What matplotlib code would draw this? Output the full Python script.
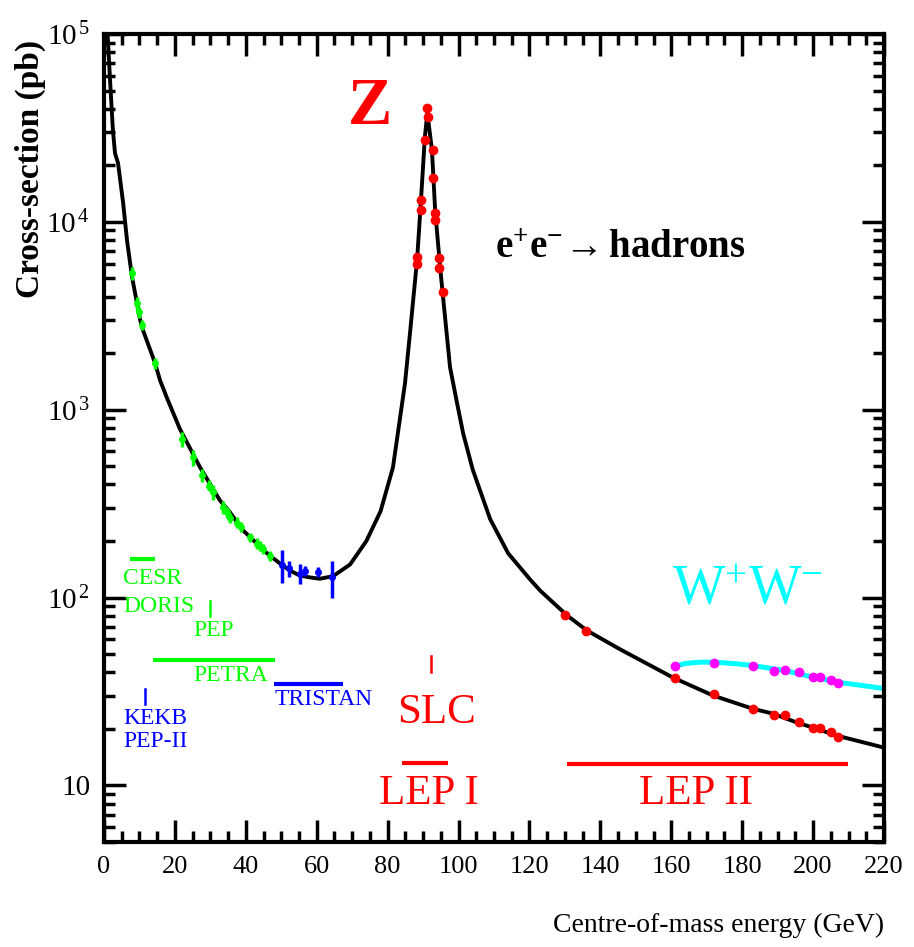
import matplotlib
matplotlib.use("Agg")
import matplotlib.pyplot as plt
from matplotlib.ticker import MultipleLocator, LogLocator, NullFormatter, FixedLocator, FixedFormatter

plt.rcParams['font.family'] = ['Liberation Serif', 'DejaVu Serif']
plt.rcParams['mathtext.fontset'] = 'custom'
plt.rcParams['mathtext.rm'] = 'Liberation Serif'
plt.rcParams['mathtext.it'] = 'Liberation Serif:italic'
plt.rcParams['mathtext.bf'] = 'Liberation Serif:bold'

# black curve (GeV, pb)
curve_E = [0.7, 1.7, 2.5, 3.1, 3.95, 5.4, 6.5, 7.9, 10.2, 11.0, 14.4, 15.8, 17.8, 21.4,
           27.1, 32.7, 35.5, 39.2, 46.0, 49.6, 52.5, 55.3, 58.1, 60.9, 64.6, 69.4, 74.0,
           78.0, 81.5, 84.9, 86.3, 87.2, 88.3, 89.4, 90.5, 91.2, 92.5, 93.4, 94.8,
           96.2, 97.6, 99.6, 101.3, 104.0, 108.9, 114.0, 120.0, 123.0, 130.6, 136.2,
           145.6, 160.5, 171.8, 183.0, 188.7, 195.5, 200.0, 206.8, 220.0]
curve_sigma = [1.3e5, 5.7e4, 3.1e4, 2.32e4, 2.06e4, 1.26e4, 7940, 5100, 3000, 2650, 1770,
               1435, 1150, 790, 493, 329, 285, 228, 172, 152, 139, 131, 128, 126, 130, 150,
               200, 288, 493, 1384, 2550, 3830, 6250, 13000, 28300, 38000, 24100,
               11500, 5740, 3100, 1683, 1080, 748, 480, 262, 172, 126, 109, 80.4, 66.8,
               53.0, 37.5, 30.1, 25.6, 24.1, 21.6, 20.3, 18.4, 15.9]

# W+W- curve
ww_curve_E = [161, 164, 168, 172, 178, 183, 188, 192, 196, 200, 204, 208, 214, 220]
ww_curve_sigma = [43.0, 44.6, 45.3, 45.3, 44.5, 43.5, 42.0, 40.9, 39.3, 37.6, 36.4, 35.2, 34.0, 32.8]

# low energy data (CESR, DORIS, PEP, PETRA)
green_E = [7.9, 9.3, 9.9, 10.7, 14.4, 22.0, 25.0, 27.6, 29.5, 30.7, 33.5, 34.6, 35.5,
           37.5, 38.5, 41.2, 43.1, 44.0, 44.9, 46.8]
green_sigma = [5330, 3690, 3300, 2820, 1766, 700, 557, 450, 395, 363, 302, 284, 265,
               251, 237, 209, 194, 188, 182, 167]
green_err = [0.08, 0.08, 0.07, 0.06, 0.07, 0.09, 0.1, 0.08, 0.07, 0.09, 0.08, 0.07, 0.06,
             0.07, 0.06, 0.06, 0.07, 0.06, 0.06, 0.06]

# TRISTAN
blue_E = [50.2, 52.2, 55.3, 56.7, 60.4, 64.3]
blue_sigma = [150, 143, 134, 139, 137, 128]
blue_err = [0.2, 0.1, 0.12, 0.06, 0.06, 0.22]

# Z peak scan
z_E = [88.3, 88.3, 89.4, 89.4, 90.5, 91.2, 91.3, 92.8, 92.8, 93.4, 93.4, 94.5, 94.5, 95.6]
z_sigma = [6000, 6490, 11500, 13100, 27200, 40400, 36100, 24100, 17100, 10200, 11130,
           5670, 6400, 4220]

# LEP II
lep2_E = [130, 136, 161, 172, 183, 189, 192, 196, 200, 202, 205, 207]
lep2_sigma = [80.4, 66.8, 37.5, 30.8, 25.6, 23.8, 23.6, 21.8, 20.3, 20.3, 19.2, 18.2]
ww_E = [161, 172, 183, 189, 192, 196, 200, 202, 205, 207]
ww_sigma = [43.5, 45.1, 43.5, 40.9, 41.4, 40.0, 38.0, 38.0, 36.6, 35.3]

# collider energy ranges: (E from, E to, height in pb)
green_ranges = [(7.3, 14.4, 160), (13.8, 48.2, 46.8)]
blue_ranges = [(48.0, 67.4, 34.5)]
red_ranges = [(84.0, 97.0, 13.1), (130.6, 209.9, 13.0)]
# single energy machines: (E, pb low, pb high)
green_marks = [(29.9, 80, 96)]
blue_marks = [(11.6, 27.3, 32.8)]
red_marks = [(92.2, 40, 49)]

GREEN = '#00ff00'
BLUE = '#0000ff'
RED = '#ff0000'
CYAN = '#00ffff'
MAGENTA = '#ff00ff'

fig = plt.figure(figsize=(9.14, 9.47), dpi=100)
ax = fig.add_axes([104 / 914, 1 - 842 / 947, 780 / 914, 808 / 947])
ax.set_yscale('log')
ax.set_xlim(0, 220)
ax.set_ylim(5, 1e5)

ax.plot(curve_E, curve_sigma, color='black', lw=2.8, zorder=2)
ax.plot(ww_curve_E, ww_curve_sigma, color=CYAN, lw=3.6, zorder=2)


def points(E, s, rel, color, ms=4.5):
    err = [v * r for v, r in zip(s, rel)]
    ax.errorbar(E, s, yerr=err, fmt='o', ms=ms, color=color, ecolor=color,
                elinewidth=2.5, capsize=0, zorder=3)


points(green_E, green_sigma, green_err, GREEN, ms=4)
points(blue_E, blue_sigma, blue_err, BLUE, ms=4)
points(z_E, z_sigma, [0.03] * len(z_E), RED, ms=6)
points(lep2_E, lep2_sigma, [0.03] * len(lep2_E), RED, ms=6)
points(ww_E, ww_sigma, [0.03] * len(ww_E), MAGENTA, ms=6)

for ranges, color in [(green_ranges, GREEN), (blue_ranges, BLUE), (red_ranges, RED)]:
    for e0, e1, y in ranges:
        ax.plot([e0, e1], [y, y], color=color, lw=3, solid_capstyle='butt')
for marks, color in [(green_marks, GREEN), (blue_marks, BLUE), (red_marks, RED)]:
    for e, y0, y1 in marks:
        ax.plot([e, e], [y0, y1], color=color, lw=1.8)

lab = dict(fontsize=17, va='center', ha='left')
ax.text(5.4, 126, 'CESR', color=GREEN, **lab)
ax.text(5.4, 89.8, 'DORIS', color=GREEN, **lab)
ax.text(25.1, 66.8, 'PEP', color=GREEN, **lab)
ax.text(25.1, 38.5, 'PETRA', color=GREEN, **lab)
ax.text(48.2, 28.7, 'TRISTAN', color=BLUE, **lab)
ax.text(5.4, 22.7, 'KEKB', color=BLUE, **lab)
ax.text(5.4, 17.1, 'PEP-II', color=BLUE, **lab)

big = dict(color=RED, fontsize=31, ha='center', va='center')
ax.text(93.9, 24.4, 'SLC', **big)
ax.text(91.7, 9.0, 'LEP I', **big)
ax.text(167, 9.0, 'LEP II', **big)
ax.text(75, 40400, 'Z', color=RED, fontsize=48, fontweight='bold', ha='center', va='center')
ax.text(110.3, 7250, r'$\mathbf{e^{+}e^{-}\!\rightarrow hadrons}$', color='black',
        fontsize=28, ha='left', va='center')
ax.text(160.2, 109, r'W$^{+}$W$^{-}$', color=CYAN, fontsize=40, ha='left', va='center')

ax.xaxis.set_major_locator(MultipleLocator(20))
ax.xaxis.set_minor_locator(MultipleLocator(5))
ax.yaxis.set_major_locator(FixedLocator([10, 100, 1000, 1e4, 1e5]))
ax.yaxis.set_major_formatter(FixedFormatter(['10', r'$10^{\,2}$', r'$10^{\,3}$',
                                             r'$10^{\,4}$', r'$10^{\,5}$']))
ax.yaxis.set_minor_locator(LogLocator(base=10, subs=range(2, 10)))
ax.yaxis.set_minor_formatter(NullFormatter())
ax.tick_params(which='both', direction='in', top=True, right=True, width=2.5)
ax.tick_params(which='major', length=16, labelsize=19, pad=10)
ax.tick_params(axis='y', which='major', labelsize=21)
ax.tick_params(which='minor', length=8)
for sp in ax.spines.values():
    sp.set_linewidth(3)

fig.text(884 / 914, 1 - 925 / 947, 'Centre-of-mass energy (GeV)', fontsize=20,
         ha='right', va='center')
fig.text(30 / 914, 1 - 40 / 947, 'Cross-section (pb)', fontsize=24, fontweight='bold',
         rotation=90, ha='center', va='top')

fig.savefig('out.png', dpi=100)
